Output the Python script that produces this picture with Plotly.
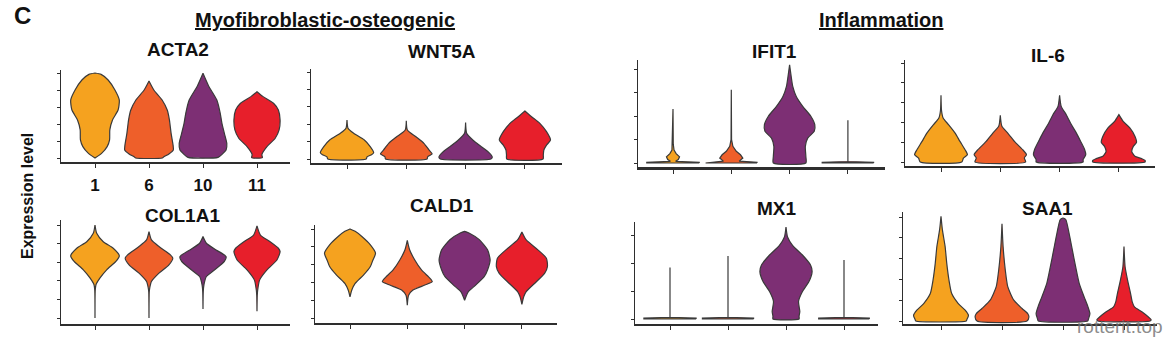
import plotly.graph_objects as go

# ---------------- data ----------------
CLUSTERS = ["1", "6", "10", "11"]
COLORS = ["#F5A21F", "#EE5F2A", "#7D2F74", "#E71F2B"]

# Each violin: expression levels (y) and relative half-widths (0..1) of the density outline
ACTA2_Y = [[0, 0.27, 0.67, 1.06, 1.65, 2.24, 2.82, 3.41, 4.0, 4.59, 4.92, 5.0],
           [0, 0.06, 0.24, 0.47, 0.76, 1.45, 2.24, 2.82, 3.41, 4.0, 4.53],
           [0.04, 0.24, 0.47, 0.86, 1.45, 2.04, 2.63, 3.41, 4.24, 4.98],
           [0.02, 0.2, 0.67, 1.16, 1.65, 2.24, 2.82, 3.22, 3.61, 3.9]]
ACTA2_W = [[0, 0.27, 0.5, 0.6, 0.61, 0.72, 0.95, 1.0, 0.82, 0.54, 0.25, 0],
           [0.55, 0.6, 0.82, 1.0, 0.99, 0.91, 0.84, 0.75, 0.54, 0.2, 0],
           [0.62, 0.8, 0.95, 0.98, 0.88, 0.78, 0.71, 0.57, 0.23, 0],
           [0.22, 0.2, 0.41, 0.75, 0.91, 0.95, 0.88, 0.68, 0.25, 0]]

WNT5A_Y = [[0, 0.12, 0.25, 0.36, 0.71, 1.09, 1.48, 1.76, 2.24],
           [0, 0.13, 0.29, 0.52, 0.9, 1.29, 1.67, 2.2],
           [0, 0.1, 0.23, 0.42, 0.71, 1.09, 1.48, 2.09],
           [0, 0.23, 0.52, 0.8, 1.09, 1.57, 2.05, 2.43, 2.76]]
WNT5A_W = [[0.72, 0.75, 0.92, 1.0, 0.87, 0.65, 0.25, 0.04, 0],
           [0.78, 0.8, 0.97, 0.85, 0.66, 0.35, 0.04, 0],
           [0.95, 1.0, 0.96, 0.84, 0.59, 0.27, 0.04, 0],
           [0.68, 0.69, 0.71, 0.81, 0.96, 0.81, 0.56, 0.25, 0]]

IFIT1_Y = [[0, 0.03, 0.07, 0.15, 0.26, 0.4, 0.55, 0.8, 2.3],
           [0, 0.03, 0.08, 0.21, 0.35, 0.5, 0.71, 1.0, 3.12],
           [0, 0.28, 0.71, 1.06, 1.35, 1.63, 1.99, 2.41, 2.84, 3.26, 3.69, 4.18],
           [0, 0.03, 0.06, 1.82]]
IFIT1_W = [[1.0, 1.0, 0.1, 0.2, 0.25, 0.12, 0.04, 0.01, 0],
           [0.98, 0.98, 0.3, 0.44, 0.35, 0.19, 0.06, 0.01, 0],
           [0.62, 0.62, 0.6, 0.69, 0.94, 0.96, 0.81, 0.5, 0.25, 0.12, 0.06, 0],
           [0.98, 0.98, 0, 0]]

IL6_Y = [[0, 0.2, 0.37, 0.62, 1.04, 1.46, 1.89, 2.22, 2.6, 3.37],
         [0, 0.2, 0.37, 0.62, 1.04, 1.46, 1.8, 2.36],
         [0, 0.12, 0.37, 0.62, 1.04, 1.46, 1.89, 2.39, 2.81, 3.37],
         [0, 0.08, 0.17, 0.29, 0.54, 0.79, 0.99, 1.3, 1.72, 2.05, 2.39]]
IL6_W = [[0.78, 0.84, 0.99, 0.9, 0.71, 0.53, 0.28, 0.08, 0.02, 0],
         [0.95, 0.9, 0.98, 0.84, 0.53, 0.28, 0.06, 0],
         [0.88, 0.88, 0.98, 0.94, 0.79, 0.63, 0.44, 0.25, 0.06, 0],
         [0.98, 0.98, 0.85, 0.6, 0.48, 0.54, 0.66, 0.6, 0.41, 0.16, 0]]

COL1A1_Y = [[0, 1.5, 1.79, 2.14, 2.59, 3.04, 3.34, 3.75, 4.1, 4.55, 5.0],
            [0, 1.4, 1.61, 1.96, 2.41, 2.86, 3.21, 3.39, 3.84, 4.2, 4.64],
            [0.48, 1.4, 1.79, 2.23, 2.59, 3.04, 3.3, 3.66, 4.02, 4.38],
            [0.36, 1.2, 1.52, 2.05, 2.59, 3.12, 3.57, 3.75, 4.1, 4.46, 4.95]]
COL1A1_W = [[0, 0.01, 0.04, 0.2, 0.48, 0.86, 1.0, 0.75, 0.34, 0.07, 0],
            [0, 0.01, 0.03, 0.1, 0.41, 0.82, 0.98, 0.88, 0.41, 0.1, 0],
            [0, 0.01, 0.04, 0.14, 0.48, 0.88, 0.95, 0.54, 0.14, 0],
            [0, 0.01, 0.03, 0.11, 0.41, 0.82, 0.95, 0.88, 0.54, 0.14, 0]]

CALD1_Y = [[1.19, 1.57, 1.94, 2.42, 2.89, 3.26, 3.64, 4.11, 4.58, 4.87, 5.0],
           [0.72, 1.28, 1.57, 1.85, 2.04, 2.23, 2.7, 3.26, 3.83, 4.36],
           [1.0, 1.47, 1.85, 2.32, 2.7, 3.26, 3.83, 4.4, 4.78, 4.87],
           [0.77, 1.19, 1.47, 1.94, 2.51, 2.89, 3.36, 3.83, 4.4, 4.83]]
CALD1_W = [[0, 0.07, 0.2, 0.53, 0.79, 0.89, 0.99, 0.79, 0.46, 0.2, 0],
           [0, 0.05, 0.22, 0.68, 0.97, 0.88, 0.55, 0.29, 0.09, 0],
           [0, 0.14, 0.43, 0.76, 0.89, 0.99, 0.89, 0.57, 0.17, 0],
           [0, 0.07, 0.16, 0.49, 0.88, 0.99, 0.95, 0.62, 0.16, 0]]

MX1_Y = [[0, 0.03, 0.06, 1.86],
         [0, 0.03, 0.06, 2.27],
         [0, 0.1, 0.27, 0.63, 0.99, 1.35, 1.71, 1.95, 2.31, 2.66, 2.96, 3.32],
         [0, 0.03, 0.06, 2.13]]
MX1_W = [[1.0, 1.0, 0, 0],
         [0.98, 0.98, 0, 0],
         [0.5, 0.5, 0.53, 0.48, 0.63, 0.88, 1.0, 0.94, 0.63, 0.25, 0.06, 0],
         [0.97, 0.97, 0, 0]]

SAA1_Y = [[0, 0.06, 0.27, 0.52, 0.84, 1.32, 1.97, 2.77, 3.58, 4.39, 5.03],
          [0, 0.19, 0.35, 0.6, 1.0, 1.65, 2.45, 3.58, 4.68],
          [0, 0.11, 0.35, 0.68, 1.16, 1.81, 2.61, 3.42, 4.23, 4.88, 4.95],
          [0, 0.06, 0.19, 0.44, 0.68, 0.92, 1.32, 1.97, 2.61, 3.58]]
SAA1_W = [[0.92, 0.94, 1.0, 0.88, 0.63, 0.39, 0.29, 0.21, 0.15, 0.05, 0],
          [0.91, 0.98, 0.94, 0.73, 0.43, 0.21, 0.12, 0.04, 0],
          [0.9, 0.93, 0.98, 0.91, 0.77, 0.59, 0.46, 0.34, 0.22, 0.1, 0],
          [0.95, 0.99, 0.89, 0.65, 0.38, 0.3, 0.24, 0.13, 0.04, 0]]

GENES = ["ACTA2", "WNT5A", "IFIT1", "IL-6", "COL1A1", "CALD1", "MX1", "SAA1"]
GENE_Y = [ACTA2_Y, WNT5A_Y, IFIT1_Y, IL6_Y, COL1A1_Y, CALD1_Y, MX1_Y, SAA1_Y]
GENE_W = [ACTA2_W, WNT5A_W, IFIT1_W, IL6_W, COL1A1_W, CALD1_W, MX1_W, SAA1_W]
N_TICKS = [6, 6, 5, 6, 6, 6, 4, 6]

# ---------------- layout (pixel geometry of each panel) ----------------
W, H = 1176, 345
# x0, x1, ytop, ybottom, tick0_px, px_per_unit, first_center_px, spacing_px, title_x, title_y
GEOM = [
    (61, 290, 70, 162, 158, 17.0, 95, 54.0, 178, 50),
    (311, 562, 69, 163, 159, 17.4, 347, 59.3, 442, 51),
    (638, 885, 60, 167, 163, 23.5, 673, 58.3, 774, 51),
    (905, 1155, 60, 166, 162, 19.8, 941, 59.3, 1048, 55),
    (61, 290, 220, 324, 318, 18.6, 95, 54.0, 182, 215),
    (315, 557, 225, 323, 318, 17.8, 350, 57.3, 442, 205),
    (635, 878, 222, 324, 319, 27.7, 670, 58.0, 777, 208),
    (903, 1157, 212, 324, 321, 20.8, 941, 61.0, 1047, 208),
]
HALF = 0.45
FONT = "Liberation Sans, Arial, sans-serif"
AXC = "#2e2e2e"


def px(x):
    return x / W


def py(y):
    return 1 - y / H


fig = go.Figure()
annotations = []
layout_axes = {}

for i, gene in enumerate(GENES):
    n = i + 1
    xa = "x" if n == 1 else f"x{n}"
    ya = "y" if n == 1 else f"y{n}"
    x0, x1, yt, yb, t0, ppu, c0, sp, tx, ty = GEOM[i]
    for k, cl in enumerate(CLUSTERS):
        ys = GENE_Y[i][k]
        ws = GENE_W[i][k]
        xs_r = [k + HALF * w for w in ws]
        xs_l = [k - HALF * w for w in ws][::-1]
        xx = xs_r + xs_l + [xs_r[0]]
        yy = list(ys) + list(ys)[::-1] + [ys[0]]
        jump = max(abs(a - b) for a, b in zip(ws[:-1], ws[1:]))
        shape = "linear" if jump > 0.5 else "spline"
        fig.add_trace(go.Scatter(
            x=xx, y=yy, xaxis=xa, yaxis=ya, mode="lines",
            fill="toself", fillcolor=COLORS[k],
            line=dict(color="#3a3a3a", width=1.2, shape=shape, smoothing=0.6),
            name=f"{gene} {cl}", showlegend=False, hoverinfo="skip"))

    xr = [(x0 - c0) / sp, (x1 - c0) / sp]
    yr = [(t0 - yb) / ppu, (t0 - yt) / ppu]
    xkey = "xaxis" if n == 1 else f"xaxis{n}"
    ykey = "yaxis" if n == 1 else f"yaxis{n}"
    layout_axes[xkey] = dict(
        domain=[px(x0), px(x1)], range=xr, anchor=ya,
        showline=True, linecolor=AXC, linewidth=2.6 if gene == "IFIT1" else 1.6,
        ticks="outside", ticklen=4, tickwidth=1.3, tickcolor=AXC,
        tickvals=[0, 1, 2, 3], ticktext=[f"<b>{c}</b>" for c in CLUSTERS],
        showticklabels=(gene == "ACTA2"), ticklabelstandoff=3,
        tickfont=dict(family=FONT, size=17, color="#111"),
        showgrid=False, zeroline=False, fixedrange=True)
    layout_axes[ykey] = dict(
        domain=[py(yb), py(yt)], range=yr, anchor=xa,
        showline=True, linecolor=AXC, linewidth=1.4,
        ticks="outside", ticklen=3, tickwidth=1.3, tickcolor=AXC,
        tickvals=list(range(N_TICKS[i])), showticklabels=False,
        showgrid=False, zeroline=False, fixedrange=True)
    annotations.append(dict(
        text=f"<b>{gene}</b>", x=px(tx), y=py(ty), xref="paper", yref="paper",
        xanchor="center", yanchor="middle", showarrow=False,
        font=dict(family=FONT, size=19, color="#111")))

annotations += [
    dict(text="<b><u>Myofibroblastic-osteogenic</u></b>", x=px(325), y=py(20),
         xref="paper", yref="paper", xanchor="center", yanchor="middle",
         showarrow=False, font=dict(family=FONT, size=20, color="#111")),
    dict(text="<b><u>Inflammation</u></b>", x=px(881), y=py(20),
         xref="paper", yref="paper", xanchor="center", yanchor="middle",
         showarrow=False, font=dict(family=FONT, size=20, color="#111")),
    dict(text="<b>Expression level</b>", x=px(27), y=py(196), textangle=-90,
         xref="paper", yref="paper", xanchor="center", yanchor="middle",
         showarrow=False, font=dict(family=FONT, size=16, color="#111")),
    dict(text="<b>C</b>", x=px(22), y=py(0), xref="paper", yref="paper",
         xanchor="center", yanchor="top", showarrow=False,
         font=dict(family=FONT, size=24, color="#111")),
    dict(text="rotterit.top", x=px(1120), y=py(326), xref="paper", yref="paper",
         xanchor="center", yanchor="middle", showarrow=False,
         font=dict(family=FONT, size=19, color="rgba(110,110,110,0.8)")),
]

fig.update_layout(
    width=W, height=H, margin=dict(l=0, r=0, t=0, b=0),
    paper_bgcolor="white", plot_bgcolor="white",
    annotations=annotations, showlegend=False, **layout_axes)

fig.write_html("out.html")
